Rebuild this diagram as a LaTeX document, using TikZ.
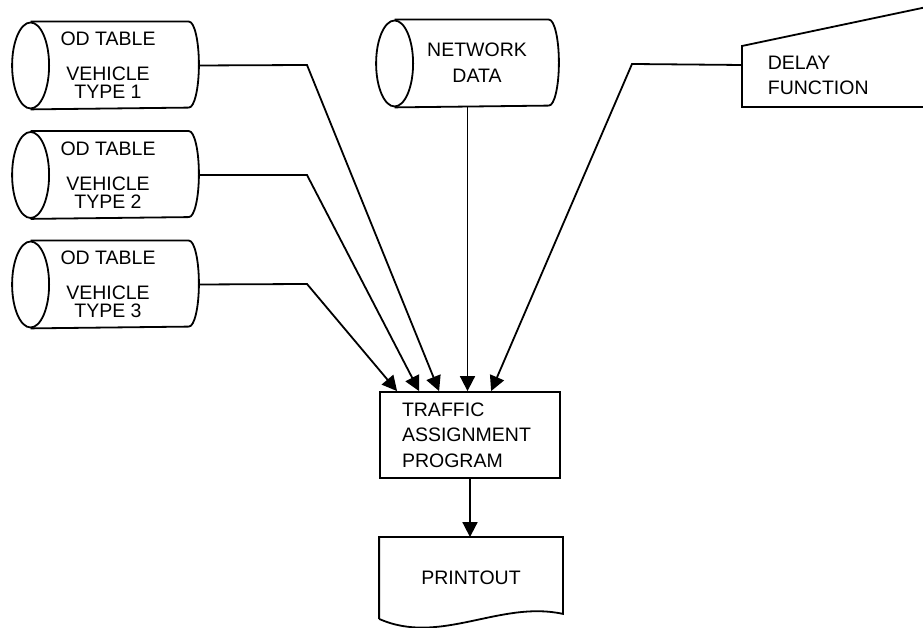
\documentclass[tikz,border=0pt]{standalone}
\usepackage{fontspec}
\setmainfont{Liberation Sans}
\usetikzlibrary{arrows.meta,calc}

\tikzset{
  drum/.style={minimum width=185pt, minimum height=86pt, inner sep=0pt},
  box/.style={draw, minimum width=180pt, minimum height=86pt, inner sep=0pt},
  txt/.style={inner sep=0pt, align=center},
  flow/.style={-{Triangle[width=15pt,length=15pt]}},
}

% outline of a lying drum around node #1
\newcommand{\drum}[1]{%
  \draw ([xshift=18.5pt]#1.north west) -- ([xshift=-10pt]#1.north east)
    arc[start angle=90, end angle=-90, x radius=10pt, y radius=43pt]
    -- ([xshift=18.5pt]#1.south west);
  \draw ([xshift=18.5pt]#1.west) ellipse [x radius=18.5pt, y radius=43pt];
}

\begin{document}
\begin{tikzpicture}[x=1pt, y=1pt, line width=1.8pt, font=\fontsize{19.5}{26}\selectfont]
  \useasboundingbox (0,0) rectangle (923,628);

  % data files
  \node (od1) [drum] at (105.5,562.5) {};
  \node (od2) [drum] at (105.5,453) {};
  \node (od3) [drum] at (105.5,343.5) {};
  \node (net) [drum, minimum width=181pt] at (467.5,564.5) {};
  \drum{od1} \drum{od2} \drum{od3} \drum{net}

  \node (t1) [txt, font=\fontsize{19.5}{18}\selectfont] at ($(od1)+(2.5,0)$) {OD TABLE\\[17pt]VEHICLE\\TYPE 1};
  \node (t2) [txt, font=\fontsize{19.5}{18}\selectfont] at ($(od2)+(2.5,0)$) {OD TABLE\\[17pt]VEHICLE\\TYPE 2};
  \node (t3) [txt, font=\fontsize{19.5}{18}\selectfont] at ($(od3)+(2.5,0)$) {OD TABLE\\[17pt]VEHICLE\\TYPE 3};
  \node (t4) [txt] at ($(net)+(9.5,1)$) {NETWORK\\DATA};

  % delay function card
  \coordinate (dtl) at (742,582);
  \coordinate (dbl) at (742,521);
  \coordinate (din) at (742,563);
  \draw (960,628) -- (dtl) -- (dbl) -- (960,521);
  \node (delay) [txt, align=left, anchor=west, font=\fontsize{19.5}{25}\selectfont] at (767,553) {DELAY\\FUNCTION};

  % program
  \node (tap) [box, text width=136pt, align=left, font=\fontsize{19.5}{25.5}\selectfont] at (470,193) {TRAFFIC\\ASSIGNMENT\\PROGRAM};
  \coordinate (in1) at ($(tap.north west)+(18,0)$);
  \coordinate (in2) at ($(tap.north west)+(40,0)$);
  \coordinate (in3) at ($(tap.north west)+(60,0)$);
  \coordinate (in5) at ($(tap.north west)+(112,0)$);

  % printout
  \node (prt) [inner sep=0pt, minimum width=182pt, minimum height=80pt] at (471,50) {PRINTOUT};
  \draw (prt.south west) -- (prt.north west) -- (prt.north east) -- ([yshift=5pt]prt.south east)
    .. controls (500,28) and (440,-18) .. (prt.south west);

  % connections
  \draw[flow] (od1.east) -- (307,563) -- (in3);
  \draw[flow] (od2.east) -- (307,453) -- (in2);
  \draw[flow] (od3.east) -- (307,344) -- (in1);
  \draw[flow] (net.south) -- (net.south |- tap.north);
  \draw[flow] (din) -- (632,564) -- (in5);
  \draw[flow] (tap.south) -- (tap.south |- prt.north);
\end{tikzpicture}
\end{document}
